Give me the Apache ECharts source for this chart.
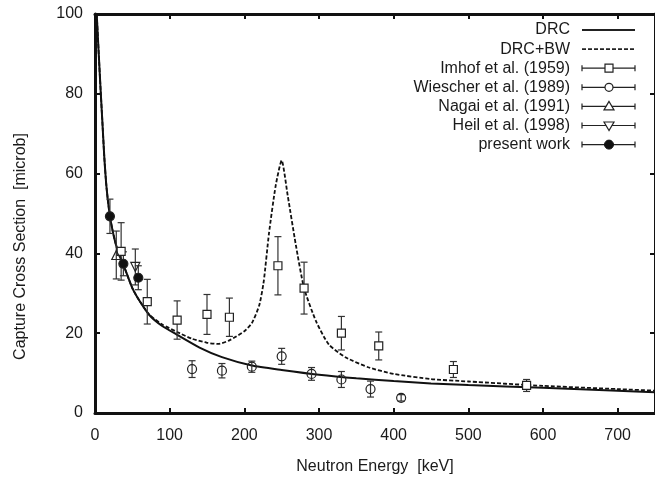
<!DOCTYPE html>
<html>
<head>
<meta charset="utf-8">
<script src="https://cdn.jsdelivr.net/npm/echarts@6/dist/echarts.min.js"></script>
<style>
  html, body { margin: 0; background: #fff; }
  #chart { width: 655px; height: 480px; }
</style>
</head>
<body>
<div id="chart"></div>
<script>
// capture cross section vs neutron energy
const xTicks = [0, 100, 200, 300, 400, 500, 600, 700];
const yTicks = [0, 20, 40, 60, 80, 100];

// DRC curve
const drcE = [2.3, 5, 7.5, 9.7, 12.5, 15.6, 20, 25, 30, 40, 50, 60, 73, 90, 110, 140, 170, 210, 250, 300, 350, 400, 450, 500, 600, 700, 750];
const drcS = [100, 90, 81, 73.6, 64, 56.2, 49.3, 44.5, 41, 36.2, 31.3, 28, 24.5, 21.8, 19.6, 16.4, 14, 11.9, 10.8, 9.6, 8.7, 8.0, 7.4, 7.0, 6.3, 5.6, 5.2];

// DRC+BW curve
const bwE = [2.3, 5, 7.5, 9.7, 12.5, 15.6, 20, 25, 30, 40, 50, 60, 73, 90, 110, 130, 150, 165, 180, 200, 210, 220, 226, 233, 242, 250, 258, 269, 280, 296, 313, 336, 367, 400, 450, 500, 600, 700, 750];
const bwS = [100, 90, 81, 73.6, 64, 56.2, 49.3, 44.5, 41, 36.2, 31.3, 28, 24.6, 22.2, 20.3, 18.6, 17.6, 17.3, 18.2, 20.5, 22.5, 27, 33, 45, 57, 63.3, 54.6, 42.1, 31.3, 23, 17.2, 13.9, 11.4, 9.8, 8.5, 7.9, 6.8, 6.0, 5.6];

// Imhof et al. (1959)
const imhofE = [35, 70, 110, 150, 180, 245, 280, 330, 380, 480, 578];
const imhofS = [40.5, 27.9, 23.3, 24.7, 24, 36.9, 31.3, 20, 16.8, 10.9, 6.9];
const imhofErr = [7.2, 5.6, 4.8, 5, 4.8, 7.3, 6.5, 4.2, 3.5, 2, 1.5];

// Wiescher et al. (1989)
const wieE = [130, 170, 210, 250, 290, 330, 369, 410];
const wieS = [11.0, 10.6, 11.6, 14.2, 9.8, 8.4, 6.0, 3.8];
const wieErr = [2.1, 1.8, 1.4, 2, 1.6, 2, 2, 0.8];

// Nagai et al. (1991)
const nagaiE = [28.5];
const nagaiS = [39.6];
const nagaiErr = [6];

// Heil et al. (1998)
const heilE = [54];
const heilS = [36.6];
const heilErr = [4.5];

// present work
const presE = [20, 38, 58];
const presS = [49.3, 37.4, 33.9];
const presErr = [4.3, 3, 3];

const FONT = 'Liberation Sans, Arial, sans-serif';
const INK = '#1a1a1a';

const pairs = (xs, ys) => xs.map((x, i) => [x, ys[i]]);
const bars = (xs, ys, es) => xs.map((x, i) => [x, ys[i] - es[i], ys[i] + es[i]]);

function errRender(params, api) {
  const top = api.coord([api.value(0), api.value(2)]);
  const bot = api.coord([api.value(0), api.value(1)]);
  const w = 3.5;
  const st = { stroke: '#333', lineWidth: 1.2 };
  return {
    type: 'group',
    children: [
      { type: 'line', shape: { x1: top[0], y1: top[1], x2: bot[0], y2: bot[1] }, style: st },
      { type: 'line', shape: { x1: top[0] - w, y1: top[1], x2: top[0] + w, y2: top[1] }, style: st },
      { type: 'line', shape: { x1: bot[0] - w, y1: bot[1], x2: bot[0] + w, y2: bot[1] }, style: st }
    ]
  };
}

function errSeries(xs, ys, es) {
  return {
    type: 'custom',
    renderItem: errRender,
    data: bars(xs, ys, es),
    encode: { x: 0, y: [1, 2] },
    z: 3,
    silent: true
  };
}

function pointSeries(xs, ys, symbol, size, fill, rotate) {
  return {
    type: 'scatter',
    data: pairs(xs, ys),
    symbol: symbol,
    symbolSize: size,
    symbolRotate: rotate || 0,
    itemStyle: { color: fill, borderColor: '#222', borderWidth: 1.2, opacity: 1 },
    z: 4
  };
}

// legend (gnuplot style, text right aligned, sample on the right)
const legendRows = ['DRC', 'DRC+BW', 'Imhof et al. (1959)', 'Wiescher et al. (1989)',
  'Nagai et al. (1991)', 'Heil et al. (1998)', 'present work'];
const legendGraphic = [];
legendRows.forEach((name, i) => {
  const y = 30 + i * 19.1;
  legendGraphic.push({
    type: 'text', x: 570, y: y,
    style: { text: name, font: '16px ' + FONT, fill: INK, align: 'right', verticalAlign: 'middle' }
  });
  const ln = { stroke: '#222', lineWidth: i === 0 ? 2 : 1.2 };
  if (i === 1) { ln.lineDash = [4, 2]; ln.lineWidth = 1.8; }
  legendGraphic.push({ type: 'line', shape: { x1: 582, y1: y, x2: 635, y2: y }, style: ln });
  if (i >= 2) {
    legendGraphic.push({ type: 'line', shape: { x1: 582, y1: y - 3, x2: 582, y2: y + 3 }, style: { stroke: '#222', lineWidth: 1.2 } });
    legendGraphic.push({ type: 'line', shape: { x1: 635, y1: y - 3, x2: 635, y2: y + 3 }, style: { stroke: '#222', lineWidth: 1.2 } });
    const cx = 609, sym = { stroke: '#222', lineWidth: 1.2, fill: '#fff' };
    if (i === 2) legendGraphic.push({ type: 'rect', shape: { x: cx - 4, y: y - 4, width: 8, height: 8 }, style: sym });
    if (i === 3) legendGraphic.push({ type: 'circle', shape: { cx: cx, cy: y, r: 4 }, style: sym });
    if (i === 4) legendGraphic.push({ type: 'polygon', shape: { points: [[cx, y - 5], [cx - 5, y + 3.5], [cx + 5, y + 3.5]] }, style: sym });
    if (i === 5) legendGraphic.push({ type: 'polygon', shape: { points: [[cx, y + 5], [cx - 5, y - 3.5], [cx + 5, y - 3.5]] }, style: sym });
    if (i === 6) legendGraphic.push({ type: 'circle', shape: { cx: cx, cy: y, r: 4.5 }, style: { fill: '#111', stroke: '#111' } });
  }
});

const chart = echarts.init(document.getElementById('chart'));

const axisCommon = {
  axisLine: { show: true, onZero: false, lineStyle: { color: '#111', width: 3 } },
  axisTick: { show: true, inside: true, length: 5, lineStyle: { color: '#111', width: 2 } },
  splitLine: { show: false }
};

const option = {
  animation: false,
  backgroundColor: '#fff',
  grid: { left: 95, right: -2, top: 14, bottom: 64 },
  xAxis: [
    Object.assign({
      type: 'value', position: 'bottom', min: 0, max: 750, interval: 100,
      name: 'Neutron Energy  [keV]', nameLocation: 'middle', nameGap: 46,
      nameTextStyle: { fontFamily: FONT, fontSize: 16, color: INK },
      axisLabel: { fontFamily: FONT, fontSize: 16, color: INK, margin: 15, showMaxLabel: false }
    }, axisCommon),
    Object.assign({
      type: 'value', position: 'top', min: 0, max: 750, interval: 100,
      axisLabel: { show: false }
    }, axisCommon)
  ],
  yAxis: [
    Object.assign({
      type: 'value', position: 'left', min: 0, max: 100, interval: 20,
      name: 'Capture Cross Section  [microb]', nameLocation: 'middle', nameGap: 66,
      nameTextStyle: { fontFamily: FONT, fontSize: 16, color: INK, padding: [0, 66, 0, 0] },
      axisLabel: { fontFamily: FONT, fontSize: 16, color: INK, margin: 12 }
    }, axisCommon),
    Object.assign({
      type: 'value', position: 'right', min: 0, max: 100, interval: 20,
      axisLabel: { show: false }
    }, axisCommon)
  ],
  graphic: legendGraphic,
  series: [
    {
      name: 'DRC', type: 'line', data: pairs(drcE, drcS), showSymbol: false,
      smooth: 0.2, lineStyle: { color: '#111', width: 2 }, z: 2
    },
    {
      name: 'DRC+BW', type: 'line', data: pairs(bwE, bwS), showSymbol: false,
      smooth: 0.2, lineStyle: { color: '#111', width: 1.8, type: [4, 2] }, z: 2
    },
    errSeries(imhofE, imhofS, imhofErr),
    pointSeries(imhofE, imhofS, 'rect', 8, '#fff'),
    errSeries(wieE, wieS, wieErr),
    pointSeries(wieE, wieS, 'circle', 9, 'rgba(255,255,255,0)'),
    errSeries(nagaiE, nagaiS, nagaiErr),
    pointSeries(nagaiE, nagaiS, 'triangle', 9, 'rgba(255,255,255,0)'),
    errSeries(heilE, heilS, heilErr),
    pointSeries(heilE, heilS, 'triangle', 9, 'rgba(255,255,255,0)', 180),
    errSeries(presE, presS, presErr),
    pointSeries(presE, presS, 'circle', 9, '#111')
  ]
};

chart.setOption(option);
</script>
</body>
</html>
